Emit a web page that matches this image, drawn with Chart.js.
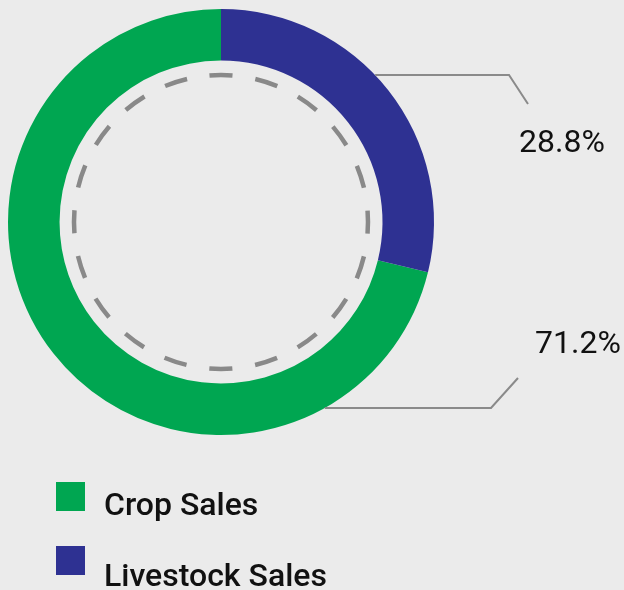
<!DOCTYPE html>
<html>
<head>
<meta charset="utf-8">
<script src="https://cdn.jsdelivr.net/npm/chart.js@4"></script>
<style>
  html, body { margin: 0; padding: 0; background: #ebebeb; }
  #wrap { width: 624px; height: 590px; position: relative; }
</style>
</head>
<body>
<div id="wrap"><canvas id="sales-chart" width="624" height="590"></canvas></div>
<script>
const categories = ['Crop Sales', 'Livestock Sales'];
const shares = [71.2, 28.8];
const colors = ['#00a651', '#2e3192'];

// dashed ring inside the doughnut, leader lines, % labels and legend
const decorPlugin = {
  id: 'decor',
  afterDatasetsDraw(chart) {
    const ctx = chart.ctx;
    const arc = chart.getDatasetMeta(0).data[0];
    const cx = arc.x, cy = arc.y, R = arc.outerRadius;

    // dashed circle, 20 dashes, one centred at the top
    const r = 147;
    const period = (Math.PI * 2 * r) / 20;
    ctx.save();
    ctx.strokeStyle = '#898989';
    ctx.lineWidth = 4.5;
    ctx.setLineDash([period / 2, period / 2]);
    const a0 = -Math.PI / 2 - (period / 4) / r;
    ctx.beginPath();
    ctx.arc(cx, cy, r, a0, a0 + Math.PI * 2);
    ctx.stroke();
    ctx.restore();

    // leader lines
    ctx.save();
    ctx.strokeStyle = '#8a8a8a';
    ctx.lineWidth = 2;
    const yTop = cy - 147;
    const xTop = cx + Math.sqrt(R * R - 147 * 147);
    ctx.beginPath();
    ctx.moveTo(xTop, yTop);
    ctx.lineTo(509, yTop);
    ctx.lineTo(528, yTop + 29);
    ctx.stroke();
    const yBot = cy + 186;
    const xBot = cx + Math.sqrt(R * R - 186 * 186);
    ctx.beginPath();
    ctx.moveTo(xBot, yBot);
    ctx.lineTo(491, yBot);
    ctx.lineTo(518, yBot - 30);
    ctx.stroke();
    ctx.restore();

    // percentage labels
    ctx.save();
    ctx.fillStyle = '#111';
    ctx.font = '32px Roboto';
    ctx.textBaseline = 'alphabetic';
    ctx.textAlign = 'left';
    ctx.fillText(shares[1].toFixed(1) + '%', 519, 152);
    ctx.fillText(shares[0].toFixed(1) + '%', 535, 353);
    ctx.restore();

    // legend
    ctx.save();
    const boxTops = [482, 546];
    const baselines = [515, 586];
    categories.forEach((name, i) => {
      ctx.fillStyle = colors[i];
      ctx.fillRect(56, boxTops[i], 29, 29);
      ctx.fillStyle = '#111';
      ctx.font = '500 32px Roboto';
      ctx.fillText(name, 104, baselines[i]);
    });
    ctx.restore();
  }
};

new Chart(document.getElementById('sales-chart'), {
  type: 'doughnut',
  data: {
    labels: categories,
    datasets: [{
      data: shares,
      backgroundColor: colors,
      borderWidth: 0
    }]
  },
  options: {
    responsive: false,
    animation: false,
    rotation: shares[1] * 3.6,
    cutout: '75.8%',
    layout: { padding: { left: 8, top: 9, right: 190, bottom: 155 } },
    plugins: {
      legend: { display: false },
      tooltip: { enabled: false }
    }
  },
  plugins: [decorPlugin]
});
</script>
</body>
</html>
